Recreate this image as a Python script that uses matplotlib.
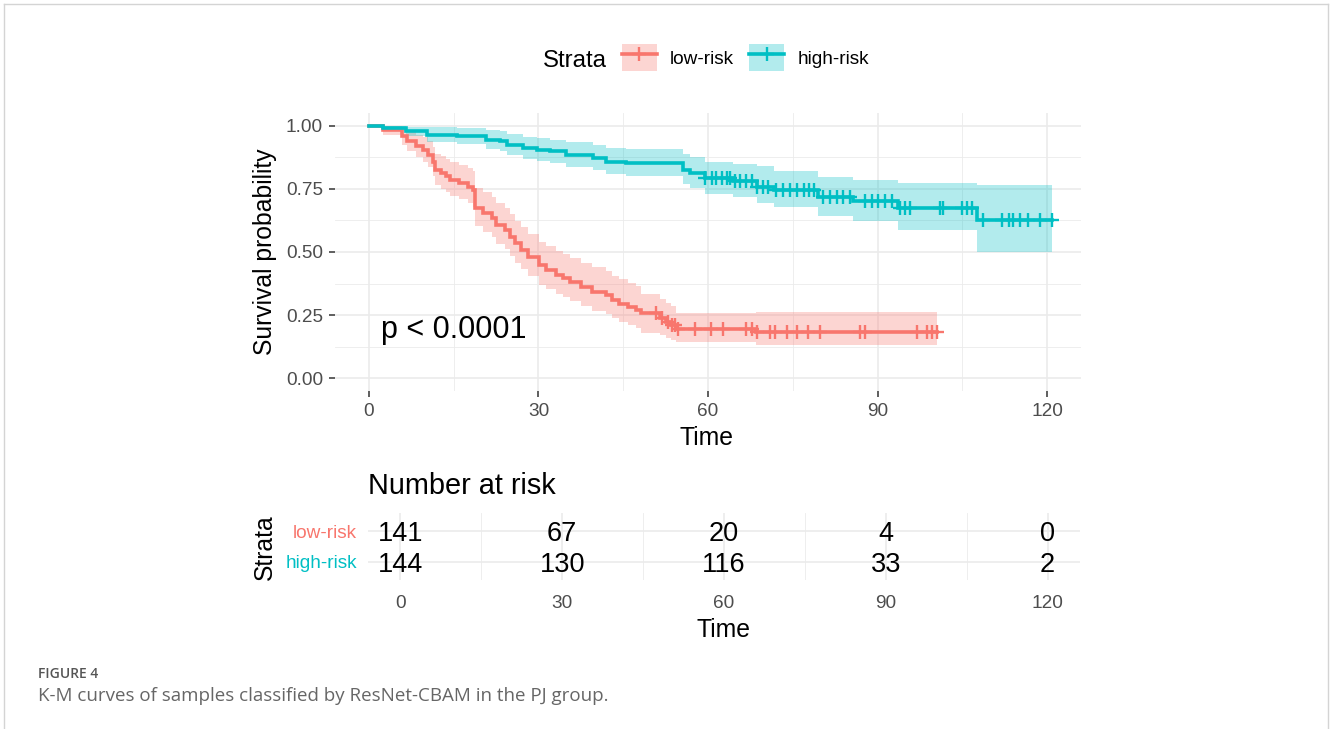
import numpy as np
import matplotlib
matplotlib.use("Agg")
import matplotlib.pyplot as plt
from matplotlib.patches import Patch
from matplotlib.lines import Line2D
from matplotlib.legend_handler import HandlerTuple

plt.rcParams['font.family'] = ['Liberation Sans', 'DejaVu Sans']

# ---------------- data ----------------
strata = ["low-risk", "high-risk"]
colors = ["#F8766D", "#00BFC4"]

low_time = [0, 2.5, 5.8, 6.7, 8.4, 9.6, 10.5, 11.4, 11.7, 12.8, 13.7, 14.3, 16.0, 17.5, 18.4,
            18.8, 20.2, 21.7, 22.5, 24.0, 24.9, 25.8, 26.9, 28.1, 30.1, 31.3, 33.1, 34.3, 35.6,
            37.6, 39.4, 41.9, 43.1, 44.3, 45.8, 47.2, 48.1, 51.5, 52.5, 53.4, 54.3, 68.5]
low_surv = [1.0, 0.984, 0.958, 0.938, 0.918, 0.905, 0.885, 0.855, 0.825, 0.812, 0.799, 0.786, 0.772,
            0.759, 0.746, 0.673, 0.654, 0.634, 0.607, 0.587, 0.561, 0.534, 0.508, 0.481, 0.448,
            0.429, 0.409, 0.396, 0.382, 0.362, 0.343, 0.329, 0.310, 0.296, 0.283, 0.270, 0.257,
            0.237, 0.223, 0.210, 0.197, 0.184]
low_upper = [1.0, 1.0, 0.992, 0.978, 0.964, 0.954, 0.938, 0.914, 0.889, 0.878, 0.867, 0.855, 0.843,
             0.831, 0.819, 0.753, 0.736, 0.717, 0.692, 0.673, 0.649, 0.623, 0.598, 0.573, 0.541,
             0.523, 0.503, 0.491, 0.477, 0.458, 0.439, 0.425, 0.406, 0.392, 0.379, 0.366, 0.335,
             0.315, 0.300, 0.285, 0.257, 0.263]
low_lower = [1.0, 0.963, 0.925, 0.899, 0.874, 0.858, 0.835, 0.800, 0.766, 0.751, 0.737, 0.723, 0.708,
             0.693, 0.679, 0.601, 0.581, 0.560, 0.532, 0.511, 0.485, 0.458, 0.431, 0.404, 0.371,
             0.352, 0.332, 0.320, 0.306, 0.287, 0.268, 0.255, 0.237, 0.224, 0.211, 0.199, 0.180,
             0.170, 0.158, 0.150, 0.144, 0.131]
low_censor = [50.8, 51.8, 53.0, 53.6, 54.2, 54.7, 57.7, 60.6, 62.7, 66.8, 67.7, 68.6, 71.0, 71.9,
              73.9, 75.7, 77.7, 79.8, 86.9, 87.8, 96.9, 98.7, 99.6, 100.6]

high_time = [0, 2.5, 6.6, 10.2, 15.5, 20.8, 23.2, 24.4, 27.3, 29.7, 32.0, 34.9, 39.6, 42.0, 45.5,
             55.6, 56.8, 59.5, 64.5, 68.6, 71.6, 79.5, 85.7, 93.7, 107.6]
high_surv = [1.0, 0.991, 0.977, 0.964, 0.958, 0.944, 0.938, 0.925, 0.911, 0.905, 0.898, 0.885,
             0.872, 0.858, 0.852, 0.825, 0.812, 0.792, 0.779, 0.759, 0.746, 0.719, 0.700, 0.673, 0.627]
high_upper = [1.0, 1.0, 0.996, 0.995, 0.991, 0.982, 0.977, 0.967, 0.956, 0.951, 0.945, 0.935,
              0.924, 0.913, 0.906, 0.886, 0.876, 0.858, 0.848, 0.840, 0.822, 0.795, 0.786, 0.772, 0.766]
high_lower = [1.0, 0.977, 0.958, 0.934, 0.926, 0.907, 0.899, 0.884, 0.868, 0.861, 0.853, 0.838,
              0.823, 0.808, 0.800, 0.770, 0.753, 0.731, 0.716, 0.693, 0.680, 0.642, 0.622, 0.587, 0.501]
high_censor = [59.5, 60.7, 61.5, 62.4, 63.3, 63.9, 64.8, 65.7, 66.8, 67.7, 68.6, 69.8, 70.6, 72.1,
               73.3, 74.5, 75.7, 76.9, 77.8, 78.7, 80.4, 81.6, 82.8, 83.9, 85.1, 87.8, 89.0, 90.1,
               91.3, 92.5, 94.0, 94.9, 95.8, 101.1, 101.6, 104.9, 105.8, 106.7, 108.7, 112.0,
               113.2, 114.0, 115.2, 116.7, 118.8, 120.8]

risk_times = [0, 30, 60, 90, 120]
risk_low = [141, 67, 20, 4, 0]
risk_high = [144, 130, 116, 33, 2]

x_ticks = [0, 30, 60, 90, 120]
y_ticks = [0.0, 0.25, 0.50, 0.75, 1.00]
y_ticklabels = ["0.00", "0.25", "0.50", "0.75", "1.00"]

# ---------------- figure ----------------
W, H, DPI = 1330, 729, 100
fig = plt.figure(figsize=(W / DPI, H / DPI), dpi=DPI)
fig.patch.set_facecolor("white")


def px_box(left, top, right, bottom):
    return [left / W, 1 - bottom / H, (right - left) / W, (bottom - top) / H]


GRID = "#EBEBEB"
TICKCOL = "#4D4D4D"

# frame around figure
for (x0, y0, x1, y1) in [(4, 4, 1328, 4), (4, 4, 4, 729), (1328, 4, 1328, 729)]:
    fig.add_artist(Line2D([x0 / W, x1 / W], [1 - y0 / H, 1 - y1 / H], color="#D4D4D4", lw=1.0,
                          transform=fig.transFigure))

# ---------------- main KM plot ----------------
ax = fig.add_axes(px_box(335, 113, 1081, 391))
ax.set_xlim(-6, 126)
ax.set_ylim(-0.05, 1.05)
for s in ax.spines.values():
    s.set_visible(False)
ax.set_xticks(x_ticks)
ax.set_xticks([15, 45, 75, 105], minor=True)
ax.set_yticks(y_ticks)
ax.set_yticklabels(y_ticklabels)
ax.set_yticks([0.125, 0.375, 0.625, 0.875], minor=True)
ax.grid(which="major", color=GRID, lw=1.2)
ax.grid(which="minor", color=GRID, lw=0.6)
ax.set_axisbelow(True)
ax.tick_params(which="major", length=4.3, width=1.1, color="#333333", labelsize=13.7,
               labelcolor=TICKCOL, pad=4.3)
ax.tick_params(which="minor", length=0)

groups = [
    (low_time, low_surv, low_upper, low_lower, low_censor),
    (high_time, high_surv, high_upper, high_lower, high_censor),
]
for (tm, sv, up, lo, cens), c in zip(groups, colors):
    end = cens[-1]
    t = np.r_[tm, end]
    ax.fill_between(t, np.r_[lo, lo[-1]], np.r_[up, up[-1]], step="post", color=c, alpha=0.3, lw=0)
for (tm, sv, up, lo, cens), c in zip(groups, colors):
    end = cens[-1]
    t = np.r_[tm, end]
    s = np.r_[sv, sv[-1]]
    ax.step(t, s, where="post", color=c, lw=2.6, solid_joinstyle="miter")
    idx = np.searchsorted(tm, cens, side="right") - 1
    ax.plot(cens, np.asarray(sv)[idx], ls="none", marker="+", ms=9.5, mew=1.7, color=c)

ax.text(2.2, 0.19, "p < 0.0001", fontsize=22, va="center", ha="left", color="black")

fig.text(265 / W, 1 - 252 / H, "Survival probability", rotation=90, ha="center", va="center",
         fontsize=17.8, color="black")
fig.text(707 / W, 1 - 445 / H, "Time", ha="center", va="baseline", fontsize=17.8, color="black")

# legend
fig.text(543 / W, 1 - 66.7 / H, "Strata", ha="left", va="baseline", fontsize=17.3, color="black")
handles = [(Patch(facecolor=c, alpha=0.3, lw=0),
            Line2D([], [], color=c, lw=2.6, marker="+", ms=9.5, mew=1.7)) for c in colors]
fig.legend(handles, strata, loc="center left", bbox_to_anchor=(621.7 / W, 1 - 57.5 / H),
           ncol=2, frameon=False, fontsize=13.7, handlelength=1.84, handleheight=1.84,
           handletextpad=0.7, columnspacing=0.8, borderpad=0, borderaxespad=0,
           handler_map={tuple: HandlerTuple(ndivide=1)})

# ---------------- risk table ----------------
tx = fig.add_axes(px_box(368, 513, 1080, 580))
tx.set_xlim(-6, 126)
tx.set_ylim(0.4, 2.6)
for s in tx.spines.values():
    s.set_visible(False)
tx.set_xticks(x_ticks)
tx.set_xticks([15, 45, 75, 105], minor=True)
tx.set_yticks([1, 2])
tx.set_yticklabels([strata[1], strata[0]])
for lab, c in zip(tx.get_yticklabels(), [colors[1], colors[0]]):
    lab.set_color(c)
tx.grid(which="major", color=GRID, lw=1.2)
tx.grid(which="minor", axis="x", color=GRID, lw=0.6)
tx.set_axisbelow(True)
tx.tick_params(axis="x", which="major", length=0, labelsize=13.7, labelcolor=TICKCOL, pad=10.5)
tx.tick_params(axis="y", which="major", length=0, labelsize=13.7, pad=8)
tx.tick_params(which="minor", length=0)
for t, nl, nh in zip(risk_times, risk_low, risk_high):
    tx.text(t, 2, str(nl), ha="center", va="center_baseline", fontsize=19.5, color="black")
    tx.text(t, 1, str(nh), ha="center", va="center_baseline", fontsize=19.5, color="black")

fig.text(368 / W, 1 - 494 / H, "Number at risk", ha="left", va="baseline", fontsize=20.8,
         color="black")
fig.text(265 / W, 1 - 547 / H, "Strata", rotation=90, ha="center", va="center", fontsize=17.8,
         color="black")
fig.text(724 / W, 1 - 637 / H, "Time", ha="center", va="baseline", fontsize=17.8, color="black")

# ---------------- caption ----------------
fig.text(38 / W, 1 - 678 / H, "FIGURE 4", ha="left", va="baseline", fontsize=10,
         color="#555555", family="Open Sans", fontweight="semibold")
fig.text(38 / W, 1 - 701 / H, "K-M curves of samples classified by ResNet-CBAM in the PJ group.",
         ha="left", va="baseline", fontsize=13.5, color="#666666", family="Open Sans")

fig.savefig("out.png", dpi=DPI, facecolor="white")
